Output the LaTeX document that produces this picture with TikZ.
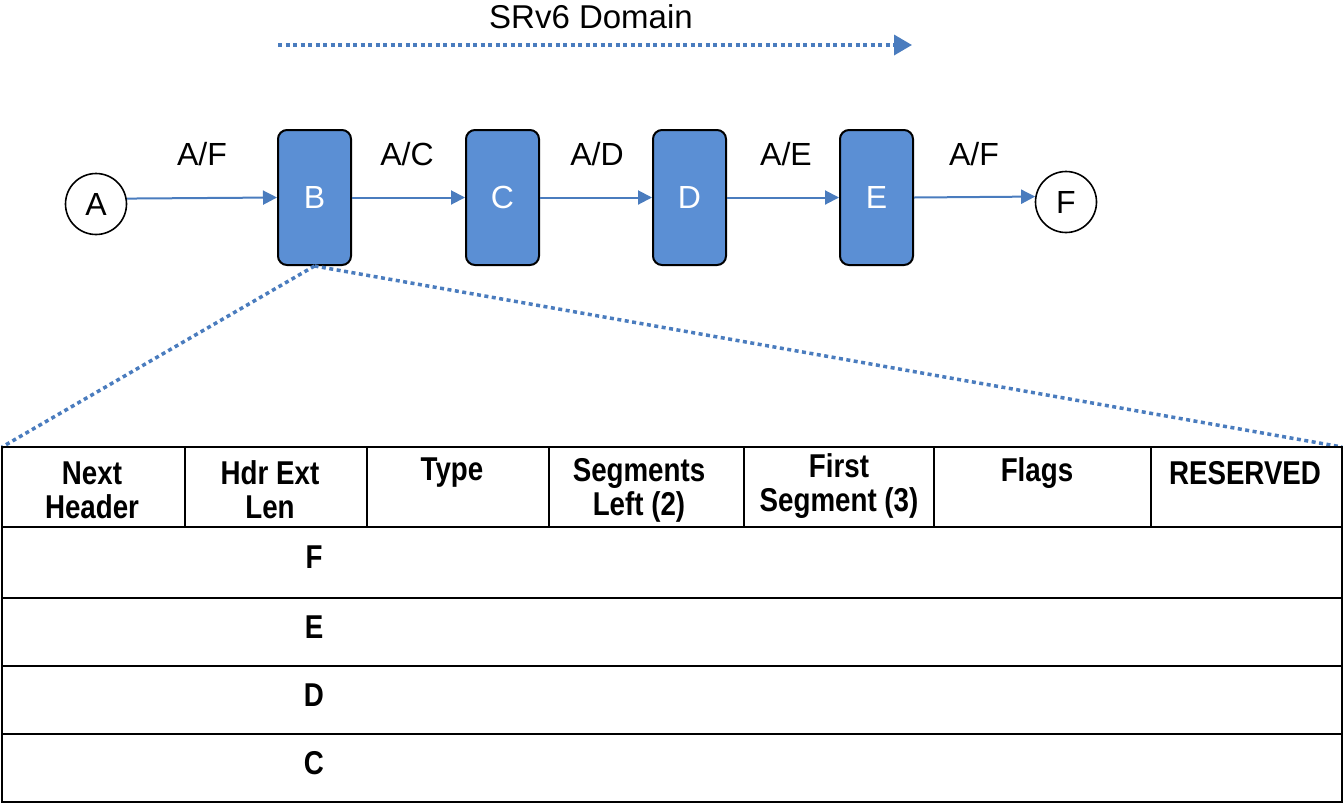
\documentclass[tikz,border=0pt]{standalone}
\usepackage{fontspec}
\setmainfont{Liberation Sans}
\newfontfamily\narrowfont[FakeStretch=0.84]{Liberation Sans}
\usetikzlibrary{arrows.meta}
\definecolor{boxblue}{RGB}{91,143,212}
\definecolor{lineblue}{RGB}{74,124,190}
\tikzset{
  router/.style={draw=black, line width=2pt, fill=boxblue, rounded corners=9pt, minimum width=73pt, minimum height=135pt, inner sep=0pt, text=white, font=\fontsize{32}{36}\selectfont},
  endpt/.style={draw=black, line width=1.6pt, circle, minimum size=61pt, inner sep=0pt, font=\fontsize{32}{36}\selectfont},
  link/.style={draw=lineblue, line width=2pt, -{Triangle[length=14pt,width=14pt]}},
  lbl/.style={font=\fontsize{32}{36}\selectfont, inner sep=0pt},
  dotline/.style={draw=lineblue, line width=3.5pt, dash pattern=on 4pt off 3.5pt},
  cell/.style={draw=black, line width=2pt, inner sep=0pt},
  hdr/.style={font=\narrowfont\bfseries\fontsize{33}{34}\selectfont, align=center, inner sep=0pt},
}
\begin{document}
\begin{tikzpicture}[x=1pt,y=-1pt]
\useasboundingbox (0,0) rectangle (1344,804);
% title
\node[lbl, font=\fontsize{33}{36}\selectfont] (title) at (591,17) {SRv6 Domain};
\coordinate (domS) at (278,45);
\coordinate (domE) at (912,45);
\draw[dotline, -{Triangle[length=18pt,width=20pt]}] (domS) -- (domE);
% nodes
\node[endpt] (A) at (96,204) {A};
\node[router] (B) at (314.5,197.5) {B};
\node[router] (C) at (502.5,197.5) {C};
\node[router] (D) at (689.5,197.5) {D};
\node[router] (E) at (876.5,197.5) {E};
\node[endpt] (F) at (1066,202) {F};
\draw[link] (A.10) -- (B.west);
\draw[link] (B.east) -- (C.west);
\draw[link] (C.east) -- (D.west);
\draw[link] (D.east) -- (E.west);
\draw[link] (E.east) -- (F.170);
\node[lbl] (l1) at (202,154) {A/F};
\node[lbl] (l2) at (407,154) {A/C};
\node[lbl] (l3) at (597,154) {A/D};
\node[lbl] (l4) at (786,154) {A/E};
\node[lbl] (l5) at (974,154) {A/F};
% table
\coordinate (tl) at (2,447);
\coordinate (tr) at (1342,447);
\draw[dotline] (B.south) -- (tl);
\draw[dotline] (B.south) -- (tr);
\node[cell, minimum width=183pt, minimum height=80pt] (c1) at (93.5,487) {};
\node[cell, minimum width=182pt, minimum height=80pt] (c2) at (276,487) {};
\node[cell, minimum width=182pt, minimum height=80pt] (c3) at (458,487) {};
\node[cell, minimum width=195pt, minimum height=80pt] (c4) at (646.5,487) {};
\node[cell, minimum width=190pt, minimum height=80pt] (c5) at (839,487) {};
\node[cell, minimum width=217pt, minimum height=80pt] (c6) at (1042.5,487) {};
\node[cell, minimum width=191pt, minimum height=80pt] (c7) at (1246.5,487) {};
\node[hdr] (h1) at (92,490) {Next\\Header};
\node[hdr] (h2) at (270,490) {Hdr Ext\\Len};
\node[hdr] (h3) at (452,473) {Type};
\node[hdr] (h4) at (639,490) {Segments\\Left (2)};
\node[hdr] (h5) at (839,486) {First\\Segment (3)};
\node[hdr] (h6) at (1037,473) {Flags};
\node[hdr] (h7) at (1245,473) {RESERVED};
\node[cell, minimum width=1340pt, minimum height=71pt] (r1) at (672,562.5) {};
\node[cell, minimum width=1340pt, minimum height=68pt] (r2) at (672,632) {};
\node[cell, minimum width=1340pt, minimum height=68pt] (r3) at (672,700) {};
\node[cell, minimum width=1340pt, minimum height=68pt] (r4) at (672,768) {};
\node[hdr] (sF) at (314,557) {F};
\node[hdr] (sE) at (314,627) {E};
\node[hdr] (sD) at (314,695) {D};
\node[hdr] (sC) at (314,763) {C};
\end{tikzpicture}
\end{document}
